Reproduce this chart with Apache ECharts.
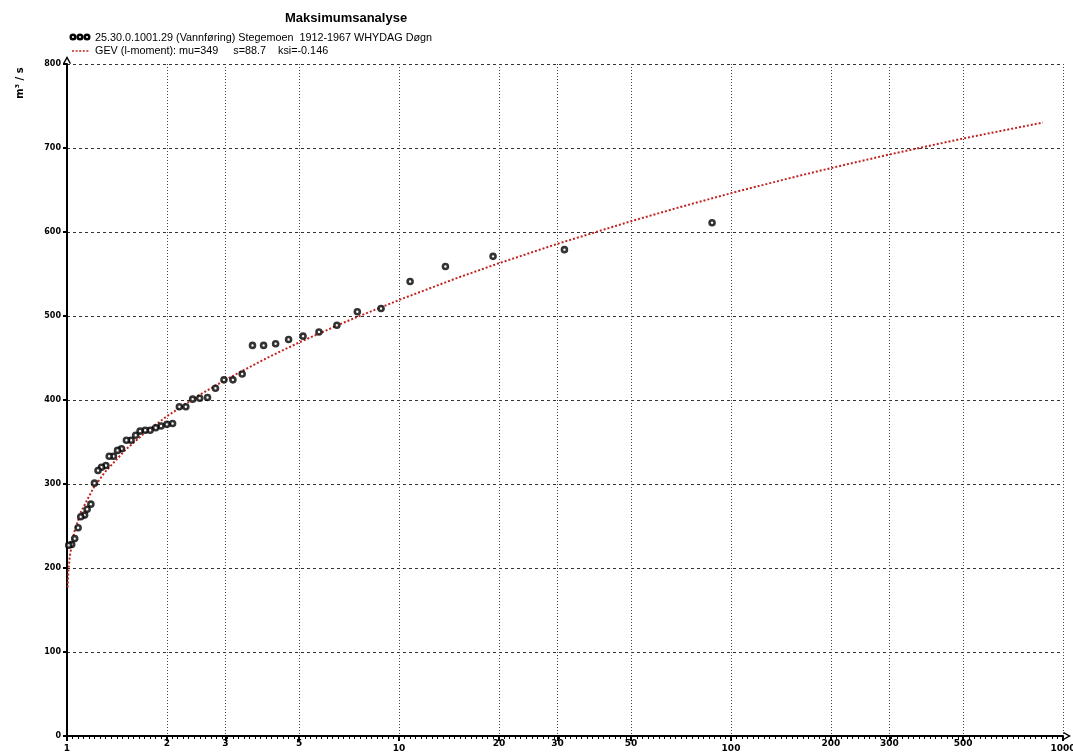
<!DOCTYPE html>
<html>
<head>
<meta charset="utf-8">
<title>Maksimumsanalyse</title>
<script src="https://cdn.jsdelivr.net/npm/echarts@6/dist/echarts.min.js"></script>
<style>
  html, body { margin: 0; padding: 0; background: #ffffff; overflow: hidden; }
  #chart { width: 1073px; height: 754px; }
</style>
</head>
<body>
<div id="chart"></div>
<script>
// Annual maximum daily discharge, Stegemoen 1912-1967, ranked with their plotting-position return periods (years)
const returnPeriods = [
  87.7, 31.5, 19.2, 13.8, 10.8, 8.83, 7.49, 6.50, 5.74, 5.14,
  4.65, 4.25, 3.91, 3.62, 3.37, 3.16, 2.97, 2.80, 2.65, 2.51,
  2.39, 2.28, 2.18, 2.08, 2.00, 1.92, 1.85, 1.78, 1.72, 1.66,
  1.61, 1.56, 1.51, 1.46, 1.42, 1.38, 1.34, 1.31, 1.27, 1.24,
  1.21, 1.18, 1.15, 1.13, 1.10, 1.08, 1.055, 1.033, 1.012
];
const discharge = [
  611, 579, 571, 559, 541, 509, 505, 489, 481, 476,
  472, 467, 465, 465, 431, 424, 424, 414, 403, 402,
  401, 392, 392, 372, 371, 369, 367, 364, 364, 363,
  358, 352, 352, 342, 340, 333, 333, 322, 320, 316,
  301, 276, 270, 263, 261, 248, 235, 228, 227
];

// GEV (L-moment) fitted quantiles: mu=349, s=88.7, ksi=-0.146
const gevReturnPeriods = [
  1.004, 1.01, 1.02, 1.05, 1.1, 1.2, 1.3, 1.5, 1.7, 2,
  2.5, 3, 4, 5, 7, 10, 15, 20, 30, 50,
  70, 100, 150, 200, 300, 500, 870
];
const gevDischarge = [
  176.8, 197.0, 214.6, 241.8, 266.3, 295.0, 314.1, 340.6, 359.5, 380.7,
  405.8, 424.0, 450.0, 468.5, 494.1, 519.1, 545.4, 562.8, 585.9, 612.8,
  629.5, 646.2, 664.1, 676.1, 692.3, 711.3, 730.3
];

// Return-period axis tick labels
const xTickValues = [1, 2, 3, 5, 10, 20, 30, 50, 100, 200, 300, 500, 1000];
const decadeTicks = [1, 10, 100, 1000];

const seriesLabel = '25.30.0.1001.29 (Vannføring) Stegemoen  1912-1967 WHYDAG Døgn';
const fitLabel = 'GEV (l-moment): mu=349     s=88.7    ksi=-0.146';

const observed = returnPeriods.map((t, i) => [t, discharge[i]]);
const fitted = gevReturnPeriods.map((t, i) => [t, gevDischarge[i]]);

const RED = '#c0231f';
const AXIS_FONT = '"DejaVu Sans", sans-serif';
const arrowUp = 'path://M5,0 L10,9 L8.6,10 L5,3.6 L1.4,10 L0,9 Z';

const chart = echarts.init(document.getElementById('chart'), null, { renderer: 'canvas' });

chart.setOption({
  backgroundColor: '#ffffff',
  animation: false,
  title: {
    text: 'Maksimumsanalyse',
    left: 285,
    top: 12,
    padding: 0,
    textStyle: { fontFamily: '"Liberation Sans", Arial, sans-serif', fontSize: 13, fontWeight: 'bold', color: '#000' }
  },
  grid: { left: 67, right: 10, top: 64, bottom: 18, containLabel: false, outerBoundsMode: 'none' },
  xAxis: [
    {
      type: 'log',
      logBase: 10,
      min: 1,
      max: 1000,
      axisLine: {
        show: true,
        lineStyle: { color: '#000', width: 2 },
        symbol: ['none', arrowUp],
        symbolSize: [9, 8],
        symbolOffset: [0, 4]
      },
      axisTick: {
        show: true,
        customValues: xTickValues,
        length: 5,
        lineStyle: { color: '#000', width: 2 }
      },
      axisLabel: {
        show: true,
        customValues: xTickValues,
        margin: 3,
        color: '#000',
        fontFamily: AXIS_FONT,
        fontSize: 9,
        fontWeight: 'bold',
        formatter: v => (decadeTicks.indexOf(v) >= 0 ? '{d|' + v + '}' : '{m|' + v + '}'),
        rich: {
          d: { fontFamily: AXIS_FONT, fontSize: 9, fontWeight: 'bold', color: '#000', padding: [5, 0, 0, 0] },
          m: { fontFamily: AXIS_FONT, fontSize: 9, fontWeight: 'bold', color: '#000', padding: [0, 0, 0, 0] }
        }
      },
      splitLine: {
        show: true,
        lineStyle: { color: '#444', width: 1, type: [1, 2] }
      },
      minorTick: { show: false },
      minorSplitLine: { show: false }
    },
    {
      // fine tick ruler along the return-period axis (log10 units)
      type: 'value',
      min: 0,
      max: 3,
      interval: 0.05,
      position: 'bottom',
      axisLine: { show: false },
      axisLabel: { show: false },
      splitLine: { show: false },
      axisTick: { show: true, length: 3, lineStyle: { color: '#000', width: 1 } },
      minorTick: { show: true, splitNumber: 3, length: 3, lineStyle: { color: '#000', width: 1 } }
    }
  ],
  yAxis: {
    type: 'value',
    min: 0,
    max: 800,
    interval: 100,
    axisLine: {
      show: true,
      onZero: false,
      lineStyle: { color: '#000', width: 2 },
      symbol: ['none', arrowUp],
      symbolSize: [9, 8],
      symbolOffset: [0, 4]
    },
    axisTick: { show: true, length: 4, lineStyle: { color: '#000', width: 2 } },
    axisLabel: {
      margin: 6,
      color: '#000',
      fontFamily: AXIS_FONT,
      fontSize: 8,
      fontWeight: 'bold'
    },
    splitLine: {
      show: true,
      lineStyle: { color: '#333', width: 1, type: [3, 3] }
    }
  },
  series: [
    {
      name: seriesLabel,
      type: 'scatter',
      xAxisIndex: 0,
      yAxisIndex: 0,
      data: observed,
      symbol: 'circle',
      symbolSize: 5,
      itemStyle: { color: '#fff', borderColor: '#000', borderWidth: 2.6 },
      z: 5
    },
    {
      name: fitLabel,
      type: 'line',
      xAxisIndex: 0,
      yAxisIndex: 0,
      data: fitted,
      showSymbol: false,
      smooth: false,
      lineStyle: { color: RED, width: 2, type: [2, 2] },
      z: 4
    }
  ],
  graphic: [
    // legend: observed maxima
    { type: 'circle', shape: { cx: 73, cy: 37, r: 2.3 }, style: { fill: '#fff', stroke: '#000', lineWidth: 2.5 } },
    { type: 'circle', shape: { cx: 80, cy: 37, r: 2.3 }, style: { fill: '#fff', stroke: '#000', lineWidth: 2.5 } },
    { type: 'circle', shape: { cx: 87, cy: 37, r: 2.3 }, style: { fill: '#fff', stroke: '#000', lineWidth: 2.5 } },
    {
      type: 'text', x: 95, y: 38,
      style: { text: seriesLabel, font: '10.8px "Liberation Sans", Arial, sans-serif', fill: '#000', verticalAlign: 'middle' }
    },
    // legend: fitted distribution
    { type: 'line', shape: { x1: 72, y1: 51, x2: 90, y2: 51 }, style: { stroke: RED, lineWidth: 1.6, lineDash: [2, 1.6] } },
    {
      type: 'text', x: 95, y: 51,
      style: { text: fitLabel, font: '10.8px "Liberation Sans", Arial, sans-serif', fill: '#000', verticalAlign: 'middle' }
    },
    // y-axis unit
    {
      type: 'text', x: 20, y: 83, rotation: Math.PI / 2,
      style: { text: 'm³ / s', font: 'bold 10px "DejaVu Sans", sans-serif', fill: '#000', align: 'center', verticalAlign: 'middle' }
    }
  ]
});
</script>
</body>
</html>
